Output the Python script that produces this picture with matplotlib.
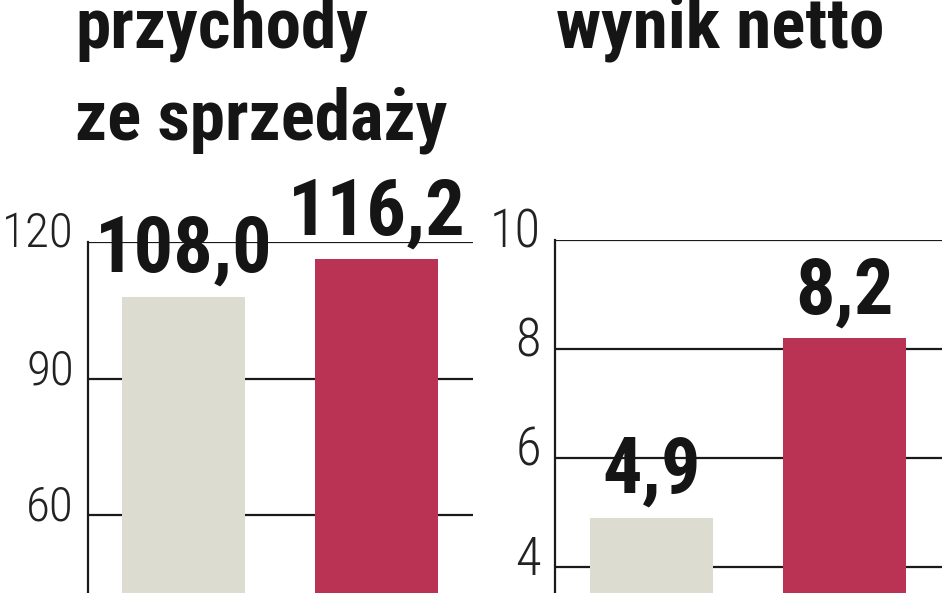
import matplotlib
matplotlib.use("Agg")
import matplotlib.pyplot as plt
import matplotlib.transforms as mtransforms
from matplotlib import font_manager as fm

# data
rev_values = [108.0, 116.2]
rev_ticks = [60, 90, 120]
net_values = [4.9, 8.2]
net_ticks = [4, 6, 8, 10]
title_lines = ["przychody", "ze sprzedaży", "wynik netto"]

bar_colors = ["#dcddd0", "#ba3254"]
line_col = "#1a1a1a"
txt_col = "#151515"


# look for a condensed face, the reference uses a narrow DIN-like type
def narrow_fonts():
    prefs = ["roboto", "open sans", "noto sans", "dejavu sans", "liberation"]
    found = []
    for f in fm.fontManager.ttflist:
        tag = (f.name + " " + str(f.stretch) + " " + f.fname).lower()
        if "condensed" in tag or "narrow" in tag:
            rank = next((i for i, p in enumerate(prefs) if p in f.name.lower()), 9)
            if "semi" in tag:
                rank += 0.5
            found.append((rank, f))
    found.sort(key=lambda t: t[0])
    return [f for _, f in found]


def wnum(f):
    return f.weight if isinstance(f.weight, int) else (700 if f.weight == "bold" else 400)


cands = narrow_fonts()
bold_fp = light_fp = None
if cands:
    fam = cands[0].name
    same = [f for f in cands if f.name == fam and f.style == "normal"]
    bolds = [f for f in same if wnum(f) == 700]
    lights = sorted(same, key=lambda f: abs(wnum(f) - 300))
    if bolds:
        bold_fp = fm.FontProperties(fname=bolds[0].fname)
    if lights:
        light_fp = fm.FontProperties(fname=lights[0].fname)
if bold_fp is None:
    bold_fp = fm.FontProperties(family="DejaVu Sans", weight="bold")
if light_fp is None:
    light_fp = fm.FontProperties(family="DejaVu Sans")

fig = plt.figure(figsize=(9.48, 5.93), dpi=100, facecolor="w")
renderer = fig.canvas.get_renderer()


def fit(t, target_w, target_pt):
    # size between what matches the reference width and the reference height
    t.set_fontsize(target_pt)
    w = t.get_window_extent(renderer).width
    size = (target_pt * target_pt * target_w / w) ** 0.5
    t.set_fontsize(size)
    return size


def panel(rect, values, ticks, ylim, xlim, label_w):
    ax = fig.add_axes(rect)
    x = list(range(len(values)))
    ax.bar(x, values, width=0.637, color=bar_colors, zorder=3, linewidth=0)
    ax.set_xlim(*xlim)
    ax.set_ylim(*ylim)
    ax.set_yticks(ticks)
    ax.set_yticklabels([str(t) for t in ticks], color="#222222")
    ax.tick_params(axis="y", length=0, pad=10)
    ax.set_xticks([])
    for s in ["top", "right", "bottom"]:
        ax.spines[s].set_visible(False)
    ax.spines["left"].set_color(line_col)
    ax.spines["left"].set_linewidth(1.6)
    ax.yaxis.grid(True, color=line_col, linewidth=1.6, zorder=1)
    ax.set_axisbelow(True)
    labs = ax.get_yticklabels()
    for lab in labs:
        lab.set_fontproperties(light_fp)
    size = fit(labs[-1], label_w, 38.5)
    off = mtransforms.ScaledTranslation(0, 12.5 / 100, fig.dpi_scale_trans)
    for lab in labs:
        lab.set_fontsize(size)
        lab.set_transform(lab.get_transform() + off)
    return ax, x


ax1, x1 = panel([88 / 948, 0, 385 / 948, 351 / 593], rev_values, rev_ticks,
                (42.9, 120), (-0.495, 1.5), 66)
ax2, x2 = panel([555 / 948, 0, 387 / 948, 353 / 593], net_values, net_ticks,
                (3.52, 10), (-0.5, 1.505), 50)

# value labels above the bars
vsize = None
for ax, x, values in [(ax1, x1, rev_values), (ax2, x2, net_values)]:
    for xi, v in zip(x, values):
        t = ax.annotate(f"{v:.1f}".replace(".", ","), (xi, v), xytext=(0, 18),
                        textcoords="offset points", ha="center", va="baseline",
                        fontproperties=bold_fp, color=txt_col, zorder=5,
                        annotation_clip=False)
        if vsize is None:
            vsize = fit(t, 174, 57.5)
        t.set_fontsize(vsize)

# titles
t1 = fig.text(75 / 948, 1 - 47 / 593, title_lines[0], fontproperties=bold_fp,
              color=txt_col, va="baseline", ha="left")
tsize = fit(t1, 275, 54.5)
fig.text(75 / 948, 1 - 140 / 593, title_lines[1], fontproperties=bold_fp,
         fontsize=tsize, color=txt_col, va="baseline", ha="left")
fig.text(556 / 948, 1 - 47 / 593, title_lines[2], fontproperties=bold_fp,
         fontsize=tsize, color=txt_col, va="baseline", ha="left")

fig.savefig("out.png", dpi=100, facecolor="w")
